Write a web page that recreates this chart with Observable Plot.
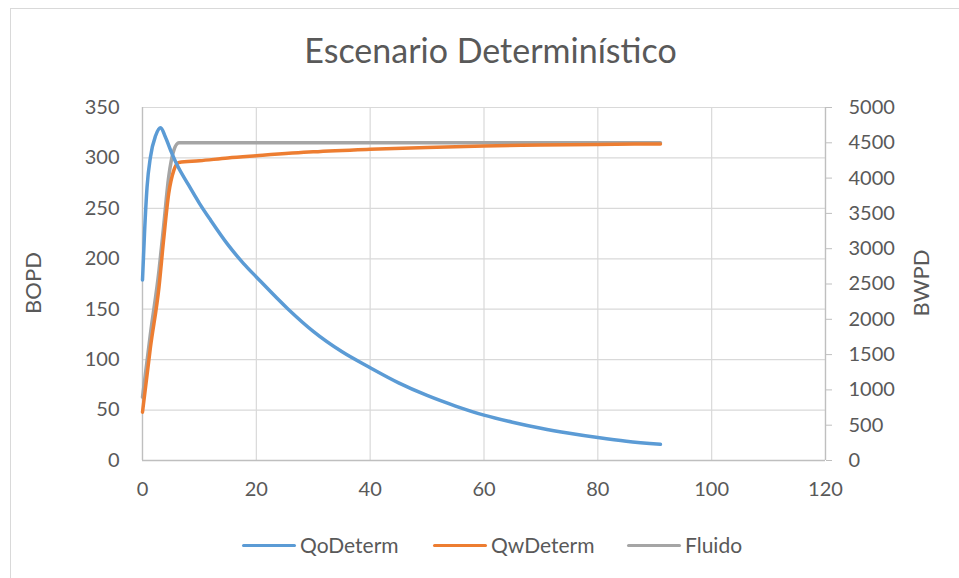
<!DOCTYPE html>
<html>
<head>
<meta charset="utf-8">
<script src="https://cdn.jsdelivr.net/npm/d3@7"></script>
<script src="https://cdn.jsdelivr.net/npm/@observablehq/plot@0.6"></script>
<style>
  html, body { margin: 0; padding: 0; background: #fff; overflow: hidden; }
  #wrap { position: relative; width: 959px; height: 578px; overflow: hidden; font-family: Lato, "Open Sans", sans-serif; color: #595959; }
  #frame { position: absolute; left: 10px; top: 8px; width: 1200px; height: 800px; border: 1px solid #d9d9d9; box-sizing: border-box; }
  #title { position: absolute; left: 0; width: 981px; top: 30px; text-align: center; font-size: 34px; line-height: 40px; font-weight: 400; }
  .ytitle { position: absolute; font-size: 22px; line-height: 24px; transform: translate(-50%, -50%) rotate(-90deg); white-space: nowrap; }
  #chart { position: absolute; left: 0; top: 0; }
  .leg { position: absolute; top: 532px; font-size: 21px; line-height: 26px; white-space: nowrap; }
  .sw { position: absolute; top: 544px; height: 3px; width: 54px; border-radius: 2px; }
</style>
</head>
<body>
<div id="wrap">
  <div id="frame"></div>
  <div id="chart"></div>
  <div id="title">Escenario Determinístico</div>
  <div class="ytitle" style="left:33px; top:283px;">BOPD</div>
  <div class="ytitle" style="left:921px; top:283px;">BWPD</div>
  <div class="sw" style="left:242px; background:#5b9bd5;"></div>
  <div class="leg" style="left:300px;">QoDeterm</div>
  <div class="sw" style="left:433px; background:#ed7d31;"></div>
  <div class="leg" style="left:491px;">QwDeterm</div>
  <div class="sw" style="left:627px; background:#a5a5a5;"></div>
  <div class="leg" style="left:685px;">Fluido</div>
</div>
<script>
// X axis (time) ticks and left / right axis ticks
const xTicks = [0, 20, 40, 60, 80, 100, 120];
const bopdTicks = [0, 50, 100, 150, 200, 250, 300, 350];
const bwpdTicks = [0, 500, 1000, 1500, 2000, 2500, 3000, 3500, 4000, 4500, 5000];

// QoDeterm (BOPD, left axis)
const qoT = [0, 0.35, 0.8, 1.4, 2.3, 3.2, 4.0, 5.2, 6.0, 8, 10, 12, 15, 17.8, 20, 25.6, 30, 35, 40, 45, 50, 55, 60, 65, 70, 75, 80, 85, 91];
const qoV = [179, 225, 271, 301, 322, 330, 321, 304, 294, 274, 255, 238, 214, 195, 182, 150, 128, 108, 92, 77, 64.5, 54, 45, 38, 32, 27, 22.7, 19, 16];

// QwDeterm (BWPD, right axis)
const qwT = [0, 1.4, 2.9, 3.7, 4.6, 5.5, 6.4, 10, 15, 20, 30, 40, 50, 60, 70, 80, 91];
const qwV = [685, 1606, 2457, 3117, 3780, 4110, 4222, 4245, 4285, 4316, 4372, 4408, 4435, 4455, 4468, 4477, 4484];

// Fluido (BWPD, right axis)
const flT = [0, 1.4, 2.9, 3.7, 4.6, 5.5, 6.4, 7, 20, 40, 60, 80, 91];
const flV = [897, 1800, 2693, 3307, 4015, 4393, 4500, 4500, 4500, 4500, 4500, 4500, 4500];

const k = 350 / 5000; // right axis -> left axis units

const qo = qoT.map((t, i) => ({t, v: qoV[i]}));
const qw = qwT.map((t, i) => ({t, v: qwV[i] * k}));
const fl = flT.map((t, i) => ({t, v: flV[i] * k}));

const chart = Plot.plot({
  width: 959,
  height: 578,
  marginLeft: 142,
  marginRight: 134,
  marginTop: 107,
  marginBottom: 118,
  x: {domain: [0, 120]},
  y: {domain: [0, 350]},
  style: {fontFamily: "Lato, 'Open Sans', sans-serif", fontSize: "20px", color: "#595959", background: "transparent"},
  marks: [
    Plot.gridY(bopdTicks, {stroke: "#d9d9d9", strokeOpacity: 1, strokeWidth: 1.2}),
    Plot.gridX(xTicks, {stroke: "#d9d9d9", strokeOpacity: 1, strokeWidth: 1.2}),
    Plot.ruleX([0], {stroke: "#bfbfbf", strokeWidth: 1.3}),
    Plot.ruleX([120], {stroke: "#bfbfbf", strokeWidth: 1.3}),
    Plot.ruleY([0], {stroke: "#bfbfbf", strokeWidth: 1.3}),
    Plot.axisY(bopdTicks, {anchor: "left", tickSize: 0, tickPadding: 23, label: null, fill: "#595959"}),
    Plot.axisY(bwpdTicks.map(v => v * k), {anchor: "right", tickSize: 6, tickPadding: 17, label: null,
      stroke: "#bfbfbf", fill: "#595959", tickFormat: d => String(Math.round(d / k))}),
    Plot.axisX(xTicks, {anchor: "bottom", tickSize: 0, tickPadding: 21, label: null, fill: "#595959"}),
    Plot.line(fl, {x: "t", y: "v", stroke: "#a5a5a5", strokeWidth: 3.5, curve: "monotone-x"}),
    Plot.line(qw, {x: "t", y: "v", stroke: "#ed7d31", strokeWidth: 3.5, curve: "monotone-x"}),
    Plot.line(qo, {x: "t", y: "v", stroke: "#5b9bd5", strokeWidth: 3.5, curve: "monotone-x"})
  ]
});
document.getElementById("chart").appendChild(chart);
</script>
</body>
</html>
